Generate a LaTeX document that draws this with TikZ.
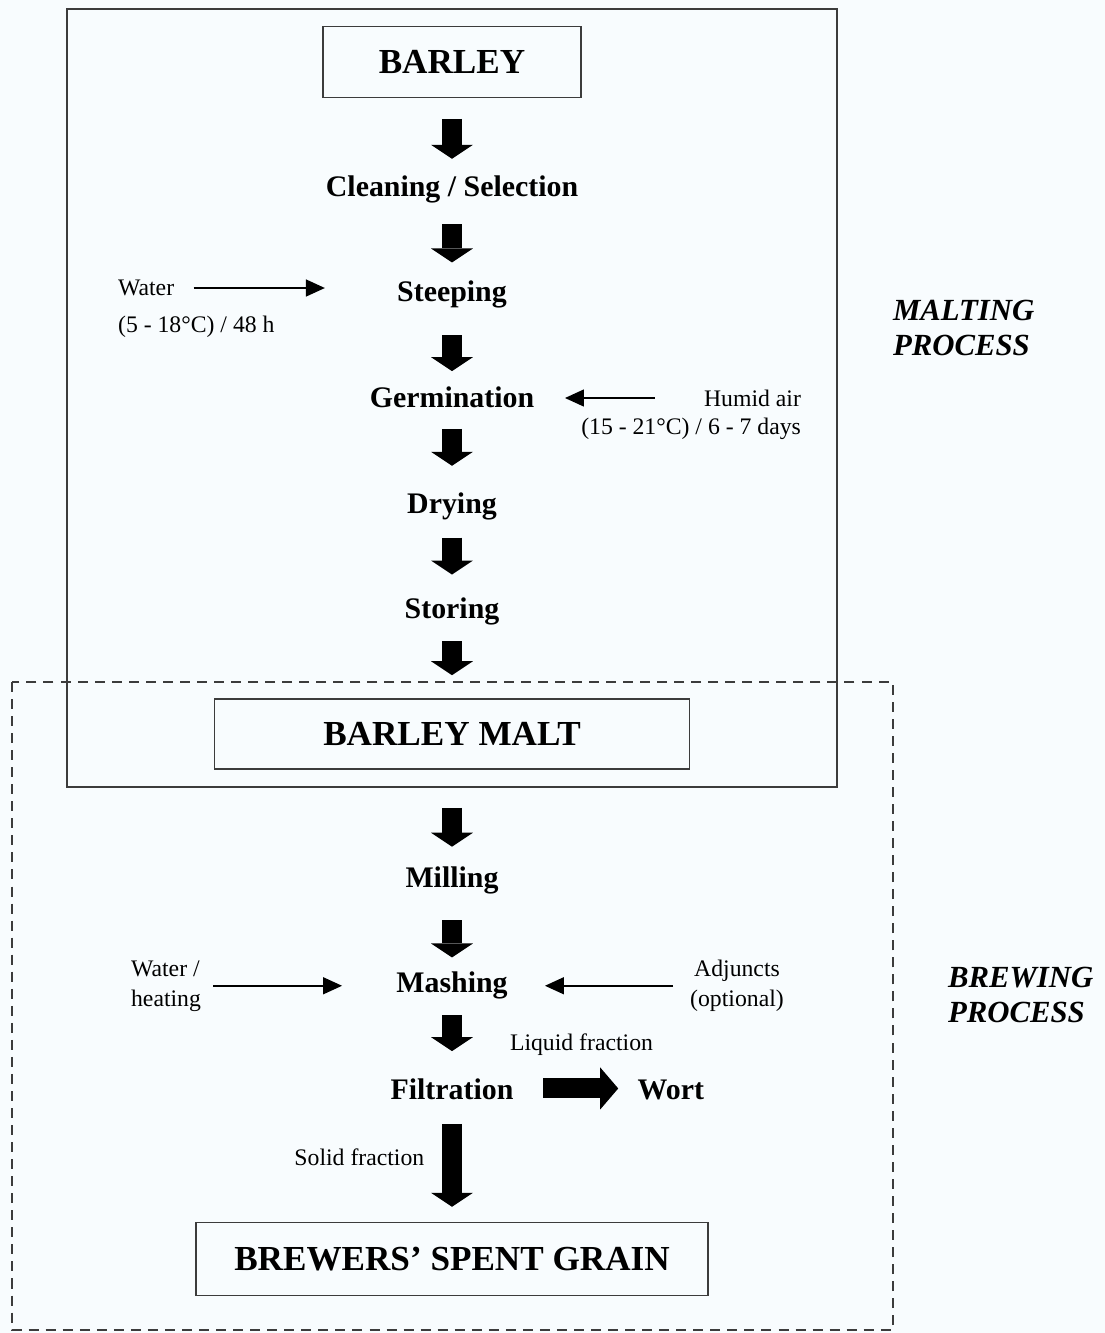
\documentclass[tikz,border=0pt]{standalone}
\usepackage{fontspec}
\setmainfont{Liberation Serif}
\usetikzlibrary{arrows.meta, positioning}

\definecolor{paper}{RGB}{248,252,254}
\definecolor{frame}{RGB}{60,60,60}

\begin{document}
\begin{tikzpicture}[
    x=0.02cm, y=-0.02cm,
    box/.style={rectangle, draw=frame, line width=0.9pt, inner sep=0pt, font=\fontsize{20}{24}\selectfont\bfseries},
    stage/.style={rectangle, inner sep=2pt, minimum height=0.8cm, text height=12pt, text depth=4pt, font=\fontsize{17}{20}\selectfont\bfseries},
    lbl/.style={inner sep=1pt, align=left, font=\fontsize{13.5}{17}\selectfont},
    procname/.style={inner sep=1pt, align=left, font=\fontsize{17.5}{20}\selectfont\bfseries\itshape},
    malting/.style={draw=frame, line width=0.9pt},
    brewing/.style={draw=frame, line width=0.9pt, dash pattern=on 5.7pt off 4pt},
    flow/.style={line width=0.4cm, -{Triangle[length=0.28cm, width=0.84cm, line width=0pt]}},
    feed/.style={line width=0.85pt, -{Triangle[length=0.38cm, width=0.34cm]}}
]

% background / page size
\fill[paper] (0,0) rectangle (1105,1333);

% ================= MALTING PROCESS =================
\node[box, minimum width=5.16cm, minimum height=1.42cm] (barley) at (452,62) {BARLEY};
\node[stage, below=1.41cm of barley] (clean) {Cleaning / Selection};
\node[stage, below=1.3cm of clean] (steep) {Steeping};
\node[stage, below=1.3cm of steep] (germ) {Germination};
\node[stage, below=1.3cm of germ] (dry) {Drying};
\node[stage, below=1.3cm of dry] (store) {Storing};
\node[box, minimum width=9.5cm, minimum height=1.4cm, below=1.32cm of store] (malt) {BARLEY MALT};

\node[lbl, anchor=west] (water) at (116,288) {Water};
\node[lbl, anchor=west] (watercond) at (116,327) {(5 - 18°C) / 48 h};
\node[lbl, anchor=east] (humid) at (803,398) {Humid air};
\node[lbl, anchor=east] (humidcond) at (803,429) {(15 - 21°C) / 6 - 7 days};

\draw[flow, shorten <=0.41cm, shorten >=0.2cm] (barley) -- (clean);
\draw[flow, shorten <=0.3cm, shorten >=0.24cm] (clean) -- (steep);
\draw[flow, shorten <=0.4cm, shorten >=0.18cm] (steep) -- (germ);
\draw[flow, shorten <=0.16cm, shorten >=0.4cm] (germ) -- (dry);
\draw[flow, shorten <=0.22cm, shorten >=0.34cm] (dry) -- (store);
\draw[flow, shorten <=0.18cm, shorten >=0.46cm] (store) -- (malt);

\draw[feed, shorten <=0.35cm, shorten >=1.37cm] (water.east) -- (water.east -| steep.west);
\draw[feed, shorten <=0.94cm, shorten >=0.54cm] (humid.west) -- (humid.west -| germ.east);

\node[procname, anchor=west] (maltname) at (891,328) {MALTING\\PROCESS};
\draw[malting] (67,9) rectangle (837,787);

% ================= BREWING PROCESS =================
\node[stage, below=1.8cm of malt] (mill) {Milling};
\node[stage, below=1.3cm of mill] (mash) {Mashing};
\node[stage, below=1.32cm of mash] (filt) {Filtration};
\node[stage, right=2.33cm of filt] (wort) {Wort};
\node[box, minimum width=10.24cm, minimum height=1.46cm, below=2.18cm of filt] (bsg) {BREWERS’ SPENT GRAIN};

\node[lbl, anchor=west] (wheat) at (129,986) {Water /\\heating};
\node[lbl, align=center] (adj) at (737,986) {Adjuncts\\(optional)};

\draw[flow, shorten <=0.76cm, shorten >=0.26cm] (malt) -- (mill);
\draw[flow, shorten <=0.4cm, shorten >=0.16cm] (mill) -- (mash);
\draw[flow, shorten <=0.18cm, shorten >=0.42cm] (mash) -- (filt);
\draw[flow, -{Triangle[length=0.36cm, width=0.84cm, line width=0pt]}, shorten <=0.52cm, shorten >=0.31cm]
    ([yshift=0.08cm]filt.east) -- ([yshift=0.08cm]filt.east -| wort.west) node[midway, above=0.42cm, xshift=0.12cm, lbl] (liquid) {Liquid fraction};
\draw[flow, shorten <=0.22cm, shorten >=0.3cm]
    (filt) -- (bsg) node[midway, left=0.32cm, yshift=0.2cm, lbl] (solid) {Solid fraction};

\draw[feed, shorten <=0.2cm, shorten >=1.01cm] (wheat.east |- mash.west) -- (mash.west);
\draw[feed, shorten <=0.3cm, shorten >=0.67cm] (adj.west |- mash.east) -- (mash.east);

\node[procname, anchor=west] (brewname) at (946,995) {BREWING\\PROCESS};
\draw[brewing] (12,682) rectangle (893,1330);

\end{tikzpicture}
\end{document}
